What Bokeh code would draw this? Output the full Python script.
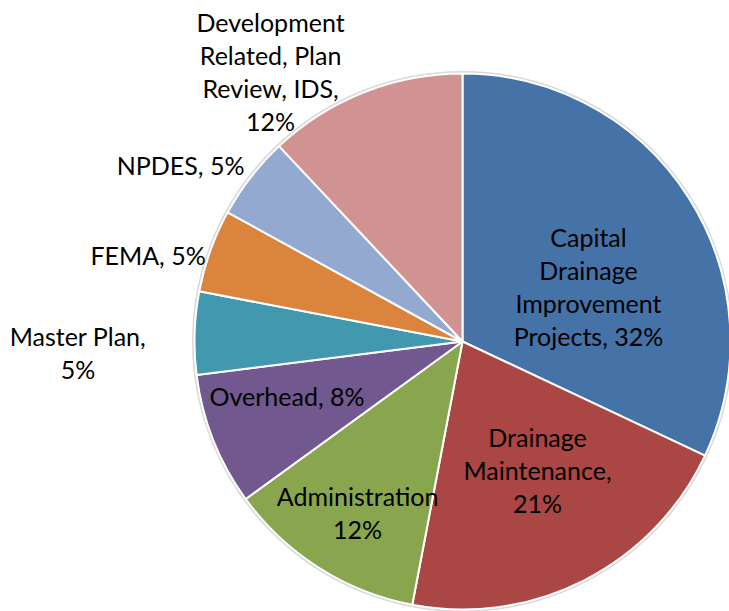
import math
from bokeh.plotting import figure
from bokeh.models import Range1d, ColumnDataSource
from bokeh.core.properties import value
from bokeh.embed import file_html
from bokeh.resources import INLINE

# ---- data ----
categories = [
    "Capital Drainage Improvement Projects",
    "Drainage Maintenance",
    "Administration",
    "Overhead",
    "Master Plan",
    "FEMA",
    "NPDES",
    "Development Related, Plan Review, IDS",
]
percents = [32, 21, 12, 8, 5, 5, 5, 12]
label_texts = [
    "Capital\nDrainage\nImprovement\nProjects, 32%",
    "Drainage\nMaintenance,\n21%",
    "Administration\n12%",
    "Overhead, 8%",
    "Master Plan,\n5%",
    "FEMA, 5%",
    "NPDES, 5%",
    "Development\nRelated, Plan\nReview, IDS,\n12%",
]

# ---- styles / layout ----
colors = ["#4572A7", "#AA4643", "#89A54E", "#71588F",
          "#4198AF", "#DB843D", "#93A9CF", "#D19392"]
R = 268
label_radius = [137.5, 149.2, 200.2, 183.9, 384.7, 326.0, 332.4, 331.3]
label_angle_shift = [8.8, -3.2, -0.8, 4.2, -3.5, -4.5, -5.8, -13.8]

total = float(sum(percents))
starts, ends, mids = [], [], []
cum = 0.0
for v in percents:
    a0 = cum / total * 360.0
    cum += v
    a1 = cum / total * 360.0
    starts.append(math.radians(90 - a0))
    ends.append(math.radians(90 - a1))
    mids.append((a0 + a1) / 2)

lx, ly = [], []
for m, r, s in zip(mids, label_radius, label_angle_shift):
    a = math.radians(m + s)
    lx.append(r * math.sin(a))
    ly.append(r * math.cos(a))

src = ColumnDataSource(dict(cat=categories, pct=percents, start=starts, end=ends, color=colors))
lsrc = ColumnDataSource(dict(x=lx, y=ly, text=label_texts))

p = figure(width=729, height=611, output_backend="svg", toolbar_location=None,
           x_range=Range1d(-462, 267), y_range=Range1d(-270, 341),
           min_border=0, outline_line_color=None)
p.axis.visible = False
p.grid.visible = False
p.background_fill_color = "white"
p.border_fill_color = "white"

# subtle shadow rim
p.circle(x=0, y=0, radius=R + 1.5, fill_color=None, line_color="#d9d9d9", line_width=2)
p.wedge(x=0, y=0, radius=R, start_angle="start", end_angle="end", direction="clock",
        fill_color="color", line_color="white", line_width=2, source=src)

p.text(x="x", y="y", text="text", source=lsrc, text_align="center", text_baseline="middle",
       text_font=value("Lato"), text_font_size="25px", text_color="black",
       text_line_height=1.1)

open("out.html", "w").write(file_html(p, INLINE))
